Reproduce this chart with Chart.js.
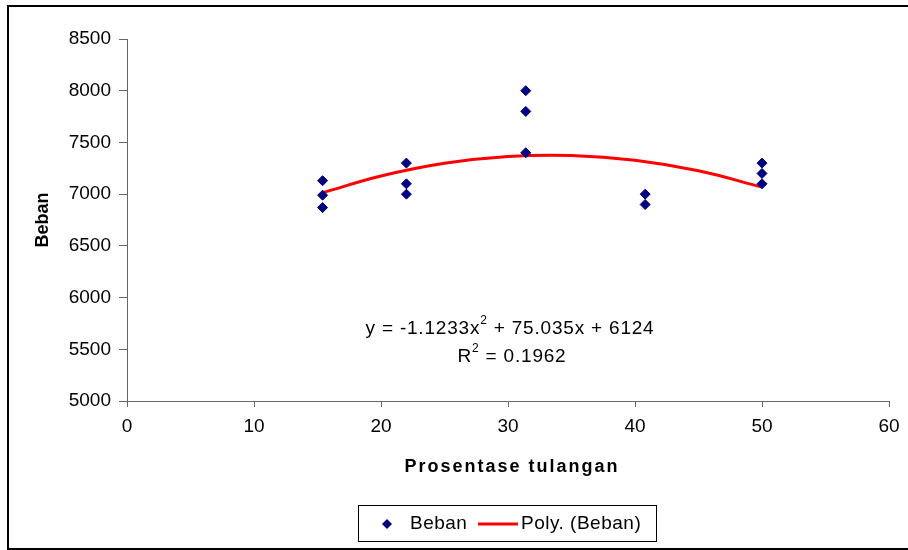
<!DOCTYPE html>
<html>
<head>
<meta charset="utf-8">
<script src="https://cdn.jsdelivr.net/npm/chart.js@4.4.0/dist/chart.umd.min.js"></script>
<style>
  html, body { margin: 0; padding: 0; background: #fff; }
  #wrap { position: relative; width: 908px; height: 550px; overflow: hidden; }
  #frame { position: absolute; left: 7px; top: 5px; width: 920px; height: 541px; border: 2px solid #000; border-right: none; }
  canvas { position: absolute; left: 0; top: 0; }
</style>
</head>
<body>
<div id="wrap">
  <div id="frame"></div>
  <canvas id="chart" width="908" height="550"></canvas>
</div>
<script>
// data
const pctX  = [15.4, 15.4, 15.4, 22, 22, 22, 31.4, 31.4, 31.4, 40.8, 40.8, 50, 50, 50];
const beban = [7130, 6990, 6870, 7300, 7100, 7000, 8000, 7800, 7400, 7000, 6900, 7300, 7200, 7100];

// Poly. (Beban) trend line, read at a few x positions
const trendX = [15.4, 20, 25, 30, 35, 40, 45, 50];
const trendY = [7013, 7175, 7298, 7364, 7374, 7328, 7226, 7068];

const xTicks = [0, 10, 20, 30, 40, 50, 60];
const yTicks = [5000, 5500, 6000, 6500, 7000, 7500, 8000, 8500];

const eqLine1 = ['y = -1.1233x', '2', ' + 75.035x + 6124'];
const eqLine2 = ['R', '2', ' = 0.1962'];

const FONT = '"Liberation Sans", Arial, sans-serif';
Chart.defaults.font.family = FONT;
Chart.defaults.color = '#000';

function drawParts(ctx, parts, cx, cy) {
    const big = '19px ' + FONT, small = '12px ' + FONT;
    let total = 0;
    parts.forEach((p, i) => {
        ctx.font = i === 1 ? small : big;
        total += ctx.measureText(p).width;
    });
    let x = cx - total / 2;
    ctx.textBaseline = 'middle';
    ctx.textAlign = 'left';
    parts.forEach((p, i) => {
        ctx.font = i === 1 ? small : big;
        ctx.fillText(p, x, i === 1 ? cy - 8 : cy);
        x += ctx.measureText(p).width;
    });
}

const extras = {
    id: 'extras',
    afterDraw(chart) {
        const ctx = chart.ctx;
        ctx.save();
        ctx.fillStyle = '#000';
        ctx.letterSpacing = '0.8px';
        drawParts(ctx, eqLine1, 510, 329);
        drawParts(ctx, eqLine2, 512, 357);

        // x axis title, spaced out like the original
        ctx.letterSpacing = '2px';
        ctx.font = 'bold 18px ' + FONT;
        ctx.textAlign = 'center';
        ctx.textBaseline = 'middle';
        ctx.fillText('Prosentase tulangan', 512, 467);
        ctx.letterSpacing = '0px';

        // legend
        ctx.strokeStyle = '#000';
        ctx.lineWidth = 1;
        ctx.strokeRect(358.5, 505.5, 298, 36);
        ctx.fillStyle = '#000080';
        ctx.beginPath();
        ctx.moveTo(382, 524); ctx.lineTo(387, 519); ctx.lineTo(392, 524); ctx.lineTo(387, 529);
        ctx.closePath();
        ctx.fill();
        ctx.fillStyle = '#000';
        ctx.font = '19px ' + FONT;
        ctx.textBaseline = 'middle';
        ctx.textAlign = 'left';
        ctx.letterSpacing = '0.5px';
        ctx.fillText('Beban', 410, 524);
        ctx.fillText('Poly. (Beban)', 521, 524);
        ctx.strokeStyle = '#ff0000';
        ctx.lineWidth = 3;
        ctx.beginPath();
        ctx.moveTo(478, 524); ctx.lineTo(518, 524);
        ctx.stroke();
        ctx.restore();
    }
};

new Chart(document.getElementById('chart'), {
    type: 'scatter',
    data: {
        datasets: [{
            label: 'Beban',
            data: pctX.map((x, i) => ({ x: x, y: beban[i] })),
            pointStyle: 'rectRot',
            pointRadius: 5,
            backgroundColor: '#000080',
            borderColor: '#000080',
            borderWidth: 1,
            order: 1
        }, {
            label: 'Poly. (Beban)',
            type: 'line',
            data: trendX.map((x, i) => ({ x: x, y: trendY[i] })),
            borderColor: '#ff0000',
            borderWidth: 3,
            pointRadius: 0,
            tension: 0.4,
            fill: false,
            order: 2
        }]
    },
    options: {
        responsive: false,
        animation: false,
        layout: { padding: { left: 8, top: 39, right: 19, bottom: 0 } },
        plugins: { legend: { display: false }, tooltip: { enabled: false } },
        scales: {
            x: {
                type: 'linear',
                min: 0, max: 60,
                afterBuildTicks: s => { s.ticks = xTicks.map(v => ({ value: v })); },
                afterFit: s => { s.height = 149; },
                grid: { drawOnChartArea: false, tickLength: 6, color: '#666' },
                border: { color: '#666', width: 1 },
                ticks: { font: { size: 19 }, padding: 8, maxRotation: 0, callback: v => String(v) }
            },
            y: {
                min: 5000, max: 8500,
                afterBuildTicks: s => { s.ticks = yTicks.map(v => ({ value: v })); },
                afterFit: s => { s.width = 119; },
                grid: { drawOnChartArea: false, tickLength: 8, color: '#666' },
                border: { color: '#666', width: 1 },
                ticks: { font: { size: 19 }, padding: 8, callback: v => String(v) },
                title: {
                    display: true,
                    text: 'Beban',
                    font: { size: 18, weight: 'bold' },
                    padding: { top: 24 }
                }
            }
        }
    },
    plugins: [extras]
});
</script>
</body>
</html>
